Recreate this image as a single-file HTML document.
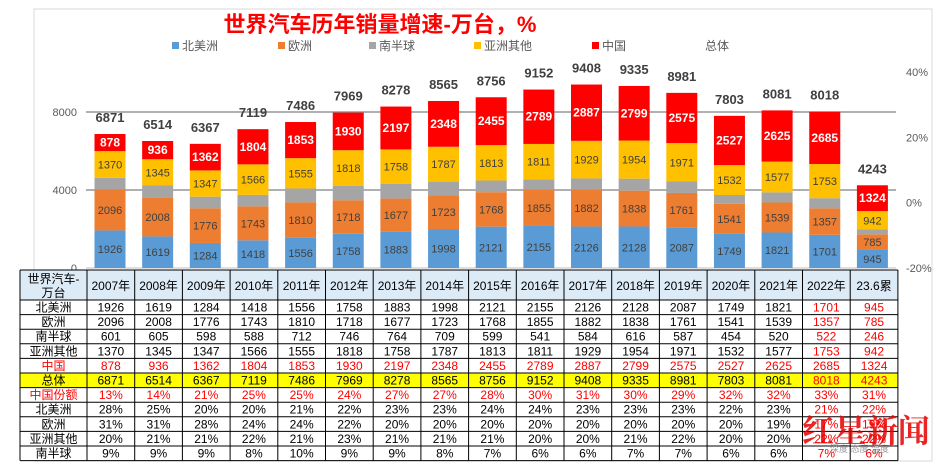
<!DOCTYPE html>
<html><head><meta charset="utf-8"><style>
html,body{margin:0;padding:0;background:#fff;width:935px;height:463px;overflow:hidden}
svg{display:block;font-family:"Liberation Sans","Noto Sans CJK SC",sans-serif}
</style></head><body>
<svg id="c" width="935" height="463" viewBox="0 0 935 463"></svg>
<script>
const years=["2007年","2008年","2009年","2010年","2011年","2012年","2013年","2014年","2015年","2016年","2017年","2018年","2019年","2020年","2021年","2022年","23.6累"];
const northAmerica=[1926,1619,1284,1418,1556,1758,1883,1998,2121,2155,2126,2128,2087,1749,1821,1701,945];
const europe=[2096,2008,1776,1743,1810,1718,1677,1723,1768,1855,1882,1838,1761,1541,1539,1357,785];
const southHemi=[601,605,598,588,712,746,764,709,599,541,584,616,587,454,520,522,246];
const asiaOther=[1370,1345,1347,1566,1555,1818,1758,1787,1813,1811,1929,1954,1971,1532,1577,1753,942];
const china=[878,936,1362,1804,1853,1930,2197,2348,2455,2789,2887,2799,2575,2527,2625,2685,1324];
const totals=[6871,6514,6367,7119,7486,7969,8278,8565,8756,9152,9408,9335,8981,7803,8081,8018,4243];
const chinaShare=[13,14,21,25,25,24,27,27,28,30,31,30,29,32,32,33,31];
const naShare=[28,25,20,20,21,22,23,23,24,24,23,23,23,22,23,21,22];
const euShare=[31,31,28,24,24,22,20,20,20,20,20,20,20,20,19,17,19];
const asShare=[20,21,21,22,21,23,21,21,21,20,20,21,22,20,20,22,22];
const shShare=[9,9,9,8,10,9,9,8,7,6,6,7,7,6,6,7,6];
const leftTicks=[0,4000,8000];
const rightTicks=["-20%","0%","20%","40%"];

const NS="http://www.w3.org/2000/svg";
const svg=document.getElementById('c');
function mk(tag,attrs,parent){const e=document.createElementNS(NS,tag);for(const k in attrs)e.setAttribute(k,attrs[k]);(parent||svg).appendChild(e);return e;}
function txt(s,attrs,parent){const e=mk('text',attrs,parent);e.textContent=s;return e;}
const y0=268,pxPer=78/4000;
const yS=v=>y0-v*pxPer;
const xC=i=>110+i*47.65;
const bw=31;

// frame
const fr=mk('rect',{x:34,y:9,width:898,height:452,fill:'#fff',stroke:'#d9d9d9'});

const t=txt('世界汽车历年销量增速-万台，%',{x:380,y:32,'text-anchor':'middle','font-size':22,'font-weight':'bold',fill:'#ff0000'});

// legend
const leg=[['北美洲','#5B9BD5',172],['欧洲','#ED7D31',278],['南半球','#A5A5A5',369],['亚洲其他','#FFC000',474],['中国','#FF0000',592],['总体',null,695]];
leg.forEach(l=>{const g=mk('g',{});
 if(l[1])mk('rect',{x:l[2],y:42,width:7,height:7,fill:l[1]},g);
 txt(l[0],{x:l[2]+10,y:50,'font-size':12,fill:'#595959'},g);});
// grid & axes
leftTicks.forEach(v=>{const ln=mk('line',{x1:86,x2:896,y1:yS(v),y2:yS(v),stroke:v?'#808080':'#bfbfbf','stroke-width':v?1.3:1});
 
 const l=txt(String(v),{x:77,y:yS(v)+4,'text-anchor':'end','font-size':11,fill:'#595959'});
 });
rightTicks.forEach((s,i)=>{const l=txt(s,{x:906,y:272-i*65.3,'font-size':11,fill:'#595959'});
 });
// bars
const series=[[northAmerica,'#5B9BD5','#404040',1],[europe,'#ED7D31','#404040',1],[southHemi,'#A5A5A5','',0],[asiaOther,'#FFC000','#404040',1],[china,'#FF0000','#fff',2]];
years.forEach((y,i)=>{let base=0;const x=xC(i)-bw/2;
 series.forEach((s,k)=>{const v=s[0][i];const r=mk('rect',{x:x,y:yS(base+v),width:bw,height:v*pxPer,fill:s[1]});
  
  if(s[3]){const l=txt(String(v),{x:xC(i),y:yS(base+v/2)+4,'text-anchor':'middle','font-size':s[3]==2?12:11,'font-weight':s[3]==2?'bold':'normal',fill:s[2]});
   }
  base+=v;});
 const tl=txt(String(totals[i]),{x:xC(i),y:yS(base)-12,'text-anchor':'middle','font-size':13,'font-weight':'bold',fill:'#404040'});
 
});
// table
const tb=mk('g',{});
const tx0=20,c0w=67,cw=47.7,ty0=270,hh=30,rh=14.6;
mk('rect',{x:tx0,y:ty0,width:c0w+17*cw,height:hh+11*rh,fill:'#fff'},tb);
mk('rect',{x:tx0,y:ty0,width:c0w+17*cw,height:hh,fill:'#DDEBF7'},tb);
mk('rect',{x:tx0,y:ty0+hh+5*rh,width:c0w+17*cw,height:rh,fill:'#FFFF00'},tb);
txt('世界汽车-',{x:tx0+c0w/2,y:ty0+13,'text-anchor':'middle','font-size':12},tb);
txt('万台',{x:tx0+c0w/2,y:ty0+27,'text-anchor':'middle','font-size':12},tb);
years.forEach((y,i)=>txt(y,{x:tx0+c0w+cw*i+cw/2,y:ty0+20,'text-anchor':'middle','font-size':12},tb));
const rows=[['北美洲',northAmerica,''],['欧洲',europe,''],['南半球',southHemi,''],['亚洲其他',asiaOther,''],['中国',china,'r'],['总体',totals,''],['中国份额',chinaShare,'%r'],['北美洲',naShare,'%'],['欧洲',euShare,'%'],['亚洲其他',asShare,'%'],['南半球',shShare,'%']];
rows.forEach((r,j)=>{const yb=ty0+hh+rh*j+11.5;const red=r[2].includes('r');
 const rg=mk('g',{},tb);
 txt(r[0],{x:tx0+c0w/2,y:yb,'text-anchor':'middle','font-size':12,fill:red?'#ff0000':'#000'},rg);
 r[1].forEach((v,i)=>txt(r[2].includes('%')?v+'%':String(v),{x:tx0+c0w+cw*i+cw/2,y:yb,'text-anchor':'middle','font-size':12,fill:(red||i>=15)?'#ff0000':'#000'},rg));});
for(let j=0;j<=12;j++){const yy=j==0?ty0:ty0+hh+rh*(j-1);mk('line',{x1:tx0,x2:tx0+c0w+17*cw,y1:yy,y2:yy,stroke:'#000','stroke-width':1},tb);}
for(let i=0;i<=18;i++){const xx=i==0?tx0:tx0+c0w+cw*(i-1);mk('line',{x1:xx,x2:xx,y1:ty0,y2:ty0+hh+11*rh,stroke:'#000','stroke-width':1},tb);}
// watermark
const wm=mk('g',{opacity:0.85});
txt('红星新闻',{x:802,y:442,'font-size':32,'font-weight':'bold',fill:'#e60000','font-family':'"Noto Serif CJK SC",serif'},wm);
txt('深度 态度 温度',{x:830,y:452,'font-size':9,fill:'#888'},wm);
</script>
</body></html>
